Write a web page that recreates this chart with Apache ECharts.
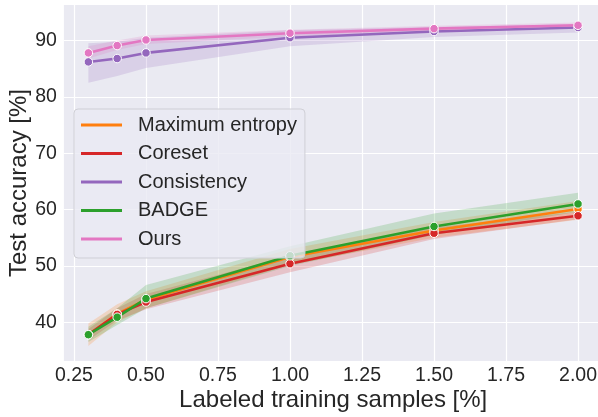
<!DOCTYPE html>
<html>
<head>
<meta charset="utf-8">
<script src="https://cdn.jsdelivr.net/npm/echarts@6/dist/echarts.min.js"></script>
<style>html,body{margin:0;padding:0;background:#fff}</style>
</head>
<body>
<div id="chart" style="width:598px;height:417px"></div>
<script>
// labeled training samples [%]
const samples = [0.3, 0.4, 0.5, 1.0, 1.5, 2.0];
const xTicks = [0.25, 0.5, 0.75, 1.0, 1.25, 1.5, 1.75, 2.0];
const yTicks = [40, 50, 60, 70, 80, 90];

const entropyMean = [37.8, 41.5, 44.0, 51.6, 56.3, 60.1];
const entropyLow  = [35.8, 40.0, 42.5, 50.2, 55.0, 58.2];
const entropyHigh = [39.8, 43.2, 45.5, 53.0, 57.8, 61.5];

const coresetMean = [37.8, 41.4, 43.6, 50.4, 55.8, 58.9];
const coresetLow  = [36.8, 40.3, 42.3, 48.9, 54.8, 58.3];
const coresetHigh = [38.8, 42.5, 45.0, 51.8, 56.8, 59.6];

const consistMean = [86.2, 86.8, 87.8, 90.5, 91.6, 92.3];
const consistLow  = [82.5, 83.7, 85.1, 89.0, 90.6, 91.4];
const consistHigh = [89.5, 89.8, 90.5, 91.8, 92.4, 92.9];

const badgeMean = [37.8, 40.9, 44.2, 51.8, 57.0, 61.0];
const badgeLow  = [36.5, 39.5, 42.5, 50.0, 55.5, 59.6];
const badgeHigh = [39.2, 42.5, 46.6, 53.5, 59.3, 63.0];

const oursMean = [87.8, 89.1, 90.1, 91.3, 92.1, 92.7];
const oursLow  = [86.8, 88.3, 89.4, 90.7, 91.6, 92.2];
const oursHigh = [89.0, 90.0, 90.9, 91.9, 92.6, 93.2];

const FONT = "'Liberation Sans', Arial, sans-serif";
const TXT = '#262626';

function band(name, low, high, color) {
  return {
    name: name + ' band',
    type: 'custom',
    silent: true,
    data: [[samples[0], low[0]]],
    renderItem: function (params, api) {
      const pts = [];
      for (let i = 0; i < samples.length; i++) pts.push(api.coord([samples[i], high[i]]));
      for (let i = samples.length - 1; i >= 0; i--) pts.push(api.coord([samples[i], low[i]]));
      return { type: 'polygon', shape: { points: pts }, style: { fill: color, opacity: 0.2 } };
    }
  };
}

function line(name, mean, color) {
  return {
    name: name,
    type: 'line',
    data: samples.map((x, i) => [x, mean[i]]),
    symbol: 'circle',
    symbolSize: 8.5,
    showAllSymbol: true,
    lineStyle: { color: color, width: 2.6 },
    itemStyle: { color: color, borderColor: '#fff', borderWidth: 1 },
    emphasis: { disabled: true }
  };
}

const methods = [
  ['Maximum entropy', entropyMean, entropyLow, entropyHigh, '#ff7f0e'],
  ['Coreset', coresetMean, coresetLow, coresetHigh, '#d62728'],
  ['Consistency', consistMean, consistLow, consistHigh, '#9467bd'],
  ['BADGE', badgeMean, badgeLow, badgeHigh, '#2ca02c'],
  ['Ours', oursMean, oursLow, oursHigh, '#e377c2']
];

const series = [];
methods.forEach(m => {
  series.push(band(m[0], m[2], m[3], m[4]));
  series.push(line(m[0], m[1], m[4]));
});

const chart = echarts.init(document.getElementById('chart'), null, { renderer: 'canvas' });
chart.setOption({
  animation: false,
  backgroundColor: '#fff',
  textStyle: { fontFamily: FONT },
  grid: { left: 63.9, top: 5, width: 538.6, height: 356, backgroundColor: '#eaeaf2', show: true,
    borderWidth: 0, containLabel: false, outerBoundsMode: 'none' },
  legend: {
    data: methods.map(m => ({ name: m[0], icon: 'rect',
      itemStyle: { color: m[4], borderWidth: 0, opacity: 1 } })),
    orient: 'vertical',
    left: 74,
    top: 109,
    itemWidth: 41,
    itemHeight: 3,
    itemGap: 6.5,
    padding: [5, 8, 8, 7],
    backgroundColor: 'rgba(234,234,242,0.8)',
    borderColor: '#cfcfd6',
    borderWidth: 1,
    borderRadius: 4,
    selectedMode: false,
    textStyle: { color: TXT, fontSize: 20, fontFamily: FONT, lineHeight: 22, padding: [0, 0, 0, 11] }
  },
  xAxis: {
    type: 'value',
    min: 0.215,
    max: 2.085,
    name: 'Labeled training samples [%]',
    nameLocation: 'middle',
    nameGap: 27,
    nameMoveOverlap: false,
    nameTextStyle: { color: TXT, fontSize: 24, fontFamily: FONT },
    axisLine: { show: false },
    axisTick: { show: false, customValues: xTicks },
    axisLabel: { customValues: xTicks, color: TXT, fontSize: 19.5, fontFamily: FONT, margin: 5,
      formatter: v => v.toFixed(2) },
    splitLine: { show: true, lineStyle: { color: '#fff', width: 1.2 } }
  },
  yAxis: {
    type: 'value',
    min: 33.13,
    max: 96.3,
    name: 'Test accuracy [%]',
    nameLocation: 'middle',
    nameGap: 33,
    nameMoveOverlap: false,
    nameTextStyle: { color: TXT, fontSize: 24, fontFamily: FONT },
    axisLine: { show: false },
    axisTick: { show: false, customValues: yTicks },
    axisLabel: { customValues: yTicks, color: TXT, fontSize: 19.5, fontFamily: FONT, margin: 7 },
    splitLine: { show: true, lineStyle: { color: '#fff', width: 1.2 } }
  },
  series: series
});
</script>
</body>
</html>
